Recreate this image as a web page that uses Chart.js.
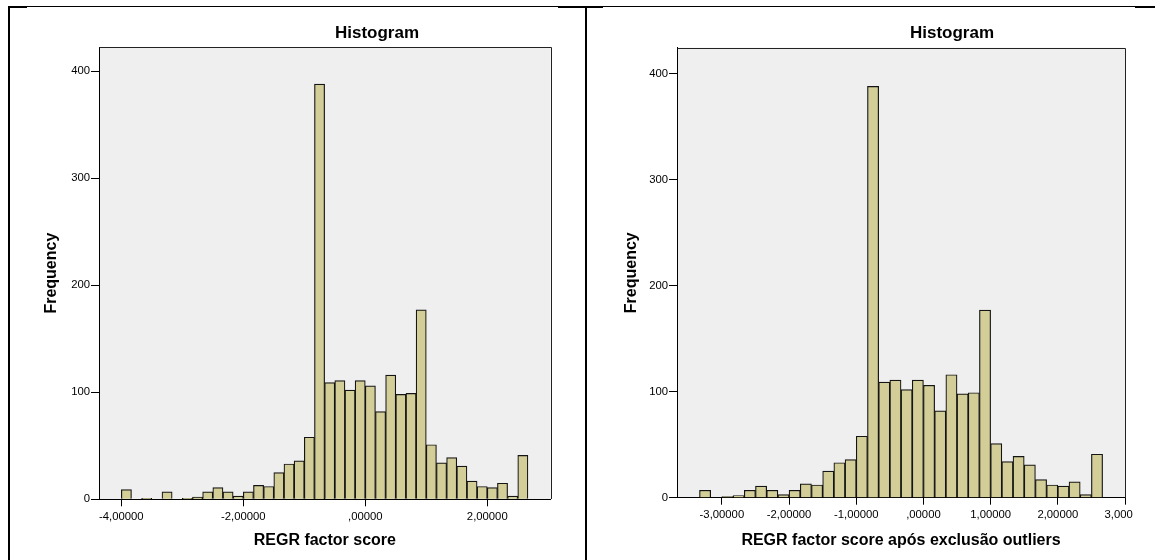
<!DOCTYPE html>
<html>
<head>
<meta charset="utf-8">
<title>Histogram</title>
<script src="https://cdn.jsdelivr.net/npm/chart.js@4.4.1/dist/chart.umd.min.js"></script>
<style>
  html, body { margin: 0; padding: 0; background: #fff; }
  #page { position: relative; width: 1155px; height: 560px; overflow: hidden; }
  .panel { position: absolute; top: 0; height: 560px; overflow: hidden; }
  #left-panel  { left: 0;     width: 585px; }
  #right-panel { left: 585px; width: 548px; }
  .rule { position: absolute; background: #000; }
</style>
</head>
<body>
<div id="page">
  <div class="panel" id="left-panel"><canvas id="left-chart" width="585" height="560"></canvas></div>
  <div class="panel" id="right-panel"><canvas id="right-chart" width="600" height="560"></canvas></div>

  <!-- table borders around the two pictures -->
  <div class="rule" style="left:8px;top:6px;width:1147px;height:1px"></div>
  <div class="rule" style="left:8px;top:6px;width:19px;height:2px"></div>
  <div class="rule" style="left:558px;top:6px;width:45px;height:2px"></div>
  <div class="rule" style="left:1135px;top:6px;width:20px;height:2px"></div>
  <div class="rule" style="left:8px;top:6px;width:2px;height:554px"></div>
  <div class="rule" style="left:585px;top:6px;width:2px;height:554px"></div>
</div>

<script>
'use strict';

// ── data ────────────────────────────────────────────────────────
const BIN_WIDTH = 1 / 6;

// all cases
const leftBinStart = -4;
const leftCounts = [9, 0, 1, 0, 7, 0, 1, 2, 7, 11, 7, 3, 7, 13, 12, 25, 33, 36, 58, 388,
                    109, 111, 102, 111, 106, 82, 116, 98, 99, 177, 51, 34, 39, 31, 17, 12, 11, 15, 3, 41];

// after excluding outliers
const rightBinStart = -10 / 3;
const rightCounts = [7, 0, 1, 2, 7, 11, 7, 3, 7, 13, 12, 25, 33, 36, 58, 388,
                     109, 111, 102, 111, 106, 82, 116, 98, 99, 177, 51, 34, 39, 31, 17, 12, 11, 15, 3, 41];

const yTicks = [0, 100, 200, 300, 400];
const leftXTicks = [-4, -2, 0, 2];
const leftXTickLabels = ['-4,00000', '-2,00000', ',00000', '2,00000'];
const rightXTicks = [-3, -2, -1, 0, 1, 2, 3];
const rightXTickLabels = ['-3,00000', '-2,00000', '-1,00000', ',00000', '1,00000', '2,00000', '3,00000'];

// ── defaults ────────────────────────────────────────────────────
const FONT = '"Liberation Sans", Arial, sans-serif';
Chart.defaults.font.family = FONT;
Chart.defaults.color = '#000';

// plot background, frame and the "Histogram" heading
const plotFrame = {
  id: 'plotFrame',
  beforeDraw(chart) {
    const { ctx, chartArea: a } = chart;
    ctx.save();
    ctx.fillStyle = '#efefef';
    ctx.fillRect(a.left, a.top, a.right - a.left, a.bottom - a.top);
    ctx.restore();
  },
  afterDraw(chart, args, opts) {
    const { ctx, chartArea: a } = chart;
    ctx.save();
    ctx.strokeStyle = '#222';
    ctx.lineWidth = 1;
    ctx.beginPath();
    ctx.moveTo(Math.round(a.left) + .5, Math.round(a.top) + .5);
    ctx.lineTo(Math.round(a.right) + .5, Math.round(a.top) + .5);
    ctx.lineTo(Math.round(a.right) + .5, Math.round(a.bottom));
    ctx.stroke();
    ctx.font = `bold 17px ${FONT}`;
    ctx.fillStyle = '#000';
    ctx.textAlign = 'center';
    ctx.textBaseline = 'middle';
    ctx.fillText(opts.title, opts.x, opts.y);
    ctx.restore();
  },
};

function toPoints(start, counts) {
  return counts.map((c, i) => ({ x: start + (i + .5) * BIN_WIDTH, y: c }));
}

function makeHistogram(id, s) {
  return new Chart(document.getElementById(id), {
    type: 'bar',
    data: {
      datasets: [{
        data: toPoints(s.binStart, s.counts),
        backgroundColor: '#d3ce98',
        borderColor: '#141414',
        borderWidth: 1.2,
        barPercentage: 1,
        categoryPercentage: 1,
      }],
    },
    plugins: [plotFrame],
    options: {
      responsive: false,
      animation: false,
      layout: { padding: { left: 0, top: s.top, right: s.padRight, bottom: 0 } },
      plugins: {
        legend: { display: false },
        tooltip: { enabled: false },
        plotFrame: { title: 'Histogram', x: s.titleX, y: 33 },
      },
      scales: {
        x: {
          type: 'linear',
          min: s.xMin,
          max: s.xMax,
          offset: false,
          afterBuildTicks: sc => { sc.ticks = s.xTicks.map(v => ({ value: v })); },
          afterFit: sc => { sc.height = s.xAxisHeight; },
          ticks: {
            autoSkip: false,
            maxRotation: 0,
            padding: 3.5,
            font: { size: 11.3 },
            callback: v => s.xTickLabels[s.xTicks.indexOf(v)],
          },
          grid: { offset: false, drawOnChartArea: false, tickLength: 7, color: '#000' },
          border: { color: '#000' },
          title: {
            display: true,
            text: s.xTitle,
            font: { size: 16, weight: 'bold' },
            padding: { top: 0, bottom: 9.4 },
          },
        },
        y: {
          min: 0,
          max: s.yMax,
          afterBuildTicks: sc => { sc.ticks = yTicks.map(v => ({ value: v })); },
          afterFit: sc => { sc.width = s.yAxisWidth; },
          ticks: { padding: 1, font: { size: 11.3 } },
          grid: { drawOnChartArea: false, tickLength: 8, color: '#000' },
          border: { color: '#000' },
          title: {
            display: true,
            text: 'Frequency',
            font: { size: 16, weight: 'bold' },
            padding: { top: s.yTitlePad, bottom: 0 },
          },
        },
      },
    },
  });
}

makeHistogram('left-chart', {
  binStart: leftBinStart, counts: leftCounts,
  xTicks: leftXTicks, xTickLabels: leftXTickLabels,
  xMin: -4.366, xMax: 3.04, yMax: 422.7,
  top: 47, padRight: 34.3, xAxisHeight: 60.7, yAxisWidth: 99,
  yTitlePad: 42.4, titleX: 377,
  xTitle: 'REGR factor score',
});

makeHistogram('right-chart', {
  binStart: rightBinStart, counts: rightCounts,
  xTicks: rightXTicks, xTickLabels: rightXTickLabels,
  xMin: -3.668, xMax: 3.0, yMax: 424.5,
  top: 47.7, padRight: 60, xAxisHeight: 62.3, yAxisWidth: 92,
  yTitlePad: 37.4, titleX: 367,
  xTitle: 'REGR factor score após exclusão outliers',
});
</script>
</body>
</html>
